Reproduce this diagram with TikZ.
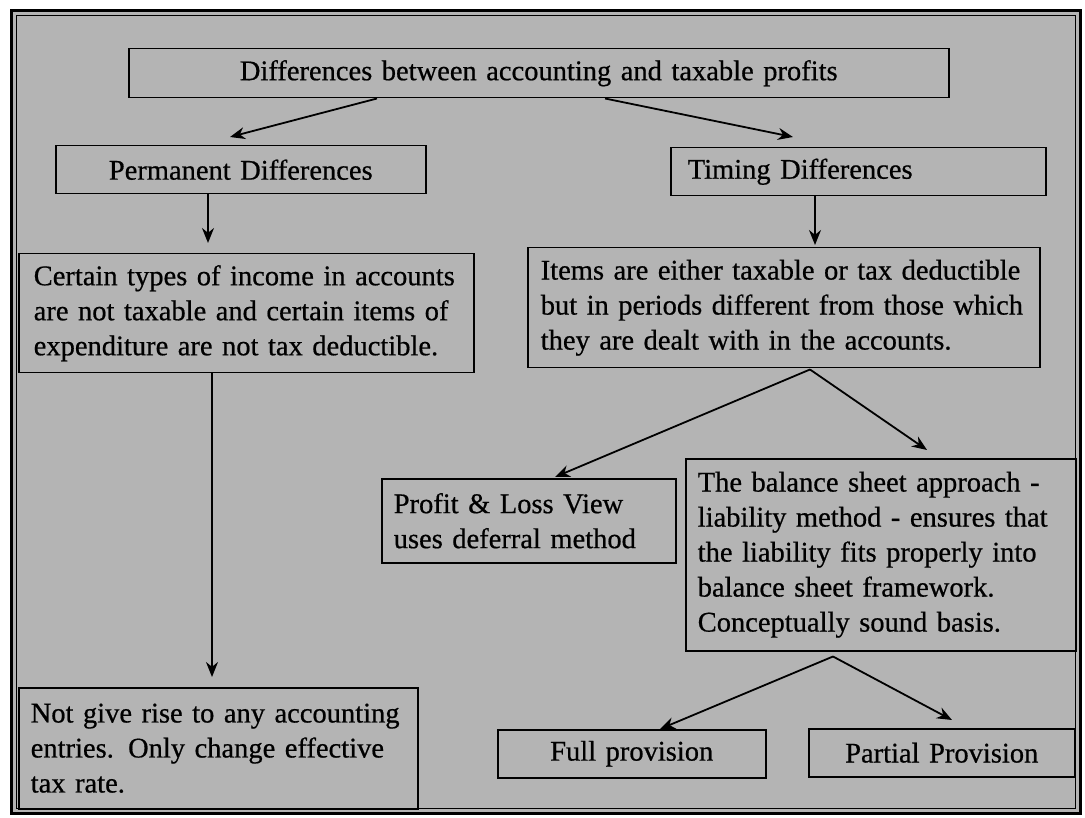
\documentclass[tikz,border=0pt]{standalone}
\usepackage{fontspec}
\setmainfont{Liberation Serif}
\newfontfamily\boxfont{Liberation Serif}[FakeBold=0.6]
\usetikzlibrary{arrows.meta}
\definecolor{bg}{RGB}{180,180,180}
\begin{document}
\begin{tikzpicture}[x=1pt,y=-1pt,
  box/.style={draw=black, line width=1.5pt, fill=bg, inner ysep=0pt, inner xsep=0pt,
    anchor=north west, font=\boxfont\fontsize{28.5}{35}\selectfont},
  lbox/.style={box, align=left},
  cbox/.style={box, align=center},
  arr/.style={-{Stealth[length=15pt,width=12pt]}, line width=1.8pt}]
\useasboundingbox (0,0) rectangle (1085,818);
\fill[white] (0,0) rectangle (1085,818);
\fill[bg] (11,11) rectangle (1080,813);
\draw[line width=3pt] (11,11) rectangle (1080,813);
\draw[line width=1pt] (16,16) rectangle (1075,808);

\node[cbox, minimum height=49pt, text width=820pt] (top) at (128,48)
  {Differences between accounting and taxable profits};
\node[cbox, minimum height=48pt, text width=370pt] (perm) at (55,145)
  {Permanent Differences};
\node[lbox, minimum height=48pt, inner xsep=17pt, text width=341pt] (timing) at (670,147)
  {Timing Differences};
\node[lbox, minimum height=119pt, inner xsep=15pt, text width=425pt] (certain) at (18,253)
  {\mbox{Certain types of income in accounts}\\ \mbox{are not taxable and certain items of}\\ \mbox{expenditure are not tax deductible.}};
\node[lbox, minimum height=120pt, inner xsep=13pt, text width=486pt] (items) at (527,247)
  {\mbox{Items are either taxable or tax deductible}\\ \mbox{but in periods different from those which}\\ \mbox{they are dealt with in the accounts.}};
\node[lbox, minimum height=84pt, inner xsep=12pt, text width=270pt] (pl) at (381,478)
  {\mbox{Profit \& Loss View}\\ \mbox{uses deferral method}};
\node[lbox, minimum height=192pt, inner xsep=12pt, text width=366pt] (bal) at (685,458)
  {\mbox{The balance sheet approach -}\\ \mbox{liability method - ensures that}\\ \mbox{the liability fits properly into}\\ \mbox{balance sheet framework.}\\ \mbox{Conceptually sound basis.}};
\node[cbox, minimum height=48pt, text width=268pt] (full) at (497,729)
  {Full provision};
\node[cbox, minimum height=48pt, text width=266pt] (partial) at (808,728)
  {Partial Provision};
\node[lbox, minimum height=121pt, inner xsep=12pt, text width=375pt] (notgive) at (18,687)
  {\mbox{Not give rise to any accounting}\\ \mbox{entries. Only change effective}\\ \mbox{tax rate.}};

\draw[arr] ([xshift=249pt]top.south west) -- ([xshift=175pt,yshift=8pt]perm.north west);
\draw[arr] ([xshift=477pt]top.south west) -- ([xshift=123pt,yshift=10pt]timing.north west);
\draw[arr] ([xshift=153pt]perm.south west) -- ([xshift=190pt,yshift=10pt]certain.north west);
\draw[arr] ([xshift=145pt]timing.south west) -- ([xshift=288pt,yshift=2pt]items.north west);
\draw[arr] ([xshift=194pt]certain.south west) -- ([xshift=194pt,yshift=10pt]notgive.north west);
\coordinate (s1) at ([xshift=283pt,yshift=-1pt]items.south west);
\draw[arr] (s1) -- ([xshift=174pt,yshift=1pt]pl.north west);
\draw[arr] (s1) -- ([xshift=242pt,yshift=8pt]bal.north west);
\coordinate (s2) at ([xshift=148pt,yshift=-5pt]bal.south west);
\draw[arr] (s2) -- ([xshift=163pt]full.north west);
\draw[arr] (s2) -- ([xshift=144pt,yshift=8pt]partial.north west);
\end{tikzpicture}
\end{document}
